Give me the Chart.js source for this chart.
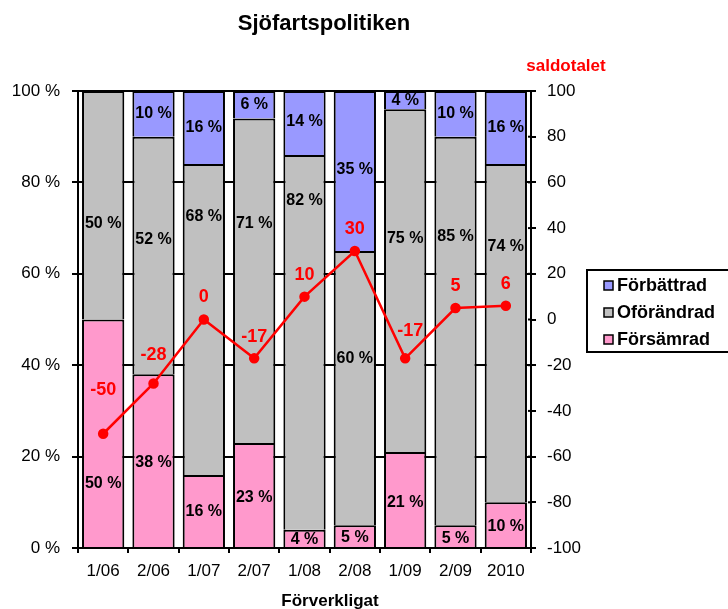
<!DOCTYPE html>
<html>
<head>
<meta charset="utf-8">
<script src="https://cdn.jsdelivr.net/npm/chart.js@4"></script>
<style>
body{margin:0;background:#fff}
</style>
</head>
<body>
<canvas id="chart" width="728" height="609"></canvas>
<script>
var periods = ['1/06','2/06','1/07','2/07','1/08','2/08','1/09','2/09','2010']
var forsamrad = [50,38,16,23,4,5,21,5,10]
var oforandrad = [50,52,68,71,82,60,75,85,74]
var forbattrad = [0,10,16,6,14,35,4,10,16]
var saldo = [-50,-28,0,-17,10,30,-17,5,6]

// where Excel put the bar labels (in % of the left axis)
var forsamradAt = [14,18.6,8,11,1.8,2.2,10,2,4.6]
var oforandradAt = [71,67.5,72.6,71,76,41.4,67.8,68.2,66]
var forbattradAt = [null,95,92,97,93.4,82.7,98,95,92]
// how far above each point the saldo label sits (px)
var saldoLift = [44,28,22,21,22,22,27,22,22]

var FONT = "'Liberation Sans', Arial, sans-serif"
var ctx = document.getElementById('chart').getContext('2d')

var extras = {
    id:'extras',
    afterDatasetsDraw:function(chart){
        var c = chart.ctx
        var ys = chart.scales.y
        var y1 = chart.scales.y1
        var area = chart.chartArea
        c.save()
        // small inner ticks on right axis
        c.strokeStyle = '#000'
        c.lineWidth = 2
        y1.ticks.forEach(function(t){
            var py = y1.getPixelForValue(t.value)
            c.beginPath()
            c.moveTo(area.right-3,py)
            c.lineTo(area.right,py)
            c.stroke()
        })
        // bar labels
        c.fillStyle = '#000'
        c.font = 'bold 16px '+FONT
        c.textAlign = 'center'
        c.textBaseline = 'middle'
        var where = [forsamradAt,oforandradAt,forbattradAt]
        for(var d=0; d<3; d++){
            var meta = chart.getDatasetMeta(d)
            var vals = chart.data.datasets[d].data
            for(var i=0; i<vals.length; i++){
                if(!vals[i]) continue
                c.fillText(vals[i]+' %', meta.data[i].x, ys.getPixelForValue(where[d][i]))
            }
        }
        // saldo labels
        var lm = chart.getDatasetMeta(3)
        c.fillStyle = '#ff0000'
        c.font = 'bold 18px '+FONT
        for(var i=0; i<saldo.length; i++){
            var p = lm.data[i]
            var dx = (i==6) ? 5 : 0
            c.fillText(String(saldo[i]), p.x+dx, p.y-saldoLift[i])
        }
        // titles
        c.fillStyle = '#000'
        c.font = 'bold 22px '+FONT
        c.fillText('Sjöfartspolitiken', 324, 24)
        c.font = 'bold 17px '+FONT
        c.fillText('Förverkligat', 330, 601)
        c.fillStyle = '#ff0000'
        c.fillText('saldotalet', 566, 66)
        // legend
        c.strokeStyle = '#000'
        c.lineWidth = 2
        c.strokeRect(587,270,150,82)
        var leg = [[2,285],[1,312],[0,339]]
        c.font = 'bold 18px '+FONT
        c.textAlign = 'left'
        leg.forEach(function(l){
            var ds = chart.data.datasets[l[0]]
            c.fillStyle = ds.backgroundColor
            c.fillRect(604,l[1]-4,9,9)
            c.lineWidth = 1.5
            c.strokeRect(604,l[1]-4,9,9)
            c.fillStyle = '#000'
            c.fillText(ds.label, 617, l[1]+1)
        })
        c.restore()
    }
}

var chart1 = new Chart(ctx,{
    type:'bar',
    data:{
        labels:periods,
        datasets:[
            {label:'Försämrad', data:forsamrad, backgroundColor:'#ff99cc', borderColor:'#000', borderWidth:2, order:1, barPercentage:0.84, categoryPercentage:1},
            {label:'Oförändrad', data:oforandrad, backgroundColor:'#c0c0c0', borderColor:'#000', borderWidth:2, order:1, barPercentage:0.84, categoryPercentage:1},
            {label:'Förbättrad', data:forbattrad, backgroundColor:'#9999ff', borderColor:'#000', borderWidth:2, order:1, barPercentage:0.84, categoryPercentage:1},
            {type:'line', label:'saldotalet', data:saldo, yAxisID:'y1', borderColor:'#ff0000', backgroundColor:'#ff0000',
             borderWidth:2.5, pointRadius:4, pointBackgroundColor:'#ff0000', pointBorderColor:'#ff0000', order:0}
        ]
    },
    options:{
        responsive:false,
        animation:false,
        layout:{padding:{top:91,left:0,right:0,bottom:0}},
        plugins:{
            legend:{display:false},
            tooltip:{enabled:false},
            title:{display:false}
        },
        scales:{
            x:{
                stacked:true,
                grid:{drawOnChartArea:false, offset:true, color:'#000', lineWidth:2, tickLength:5},
                border:{color:'#000', width:2},
                ticks:{color:'#000', font:{family:FONT, size:17}, padding:8},
                afterFit:function(s){ s.height = 61 }
            },
            y:{
                stacked:true,
                min:0, max:100,
                grid:{color:'#000', lineWidth:2, tickLength:6},
                border:{color:'#000', width:2},
                ticks:{stepSize:20, color:'#000', font:{family:FONT, size:17}, padding:12,
                    callback:function(v){ return v+' %' }},
                afterFit:function(s){ s.width = 78 }
            },
            y1:{
                position:'right',
                min:-100, max:100,
                grid:{drawOnChartArea:false, color:'#000', lineWidth:2, tickLength:5},
                border:{color:'#000', width:2},
                ticks:{stepSize:20, color:'#000', font:{family:FONT, size:17}, padding:11},
                afterFit:function(s){ s.width = 197 }
            }
        }
    },
    plugins:[extras]
})
</script>
</body>
</html>
